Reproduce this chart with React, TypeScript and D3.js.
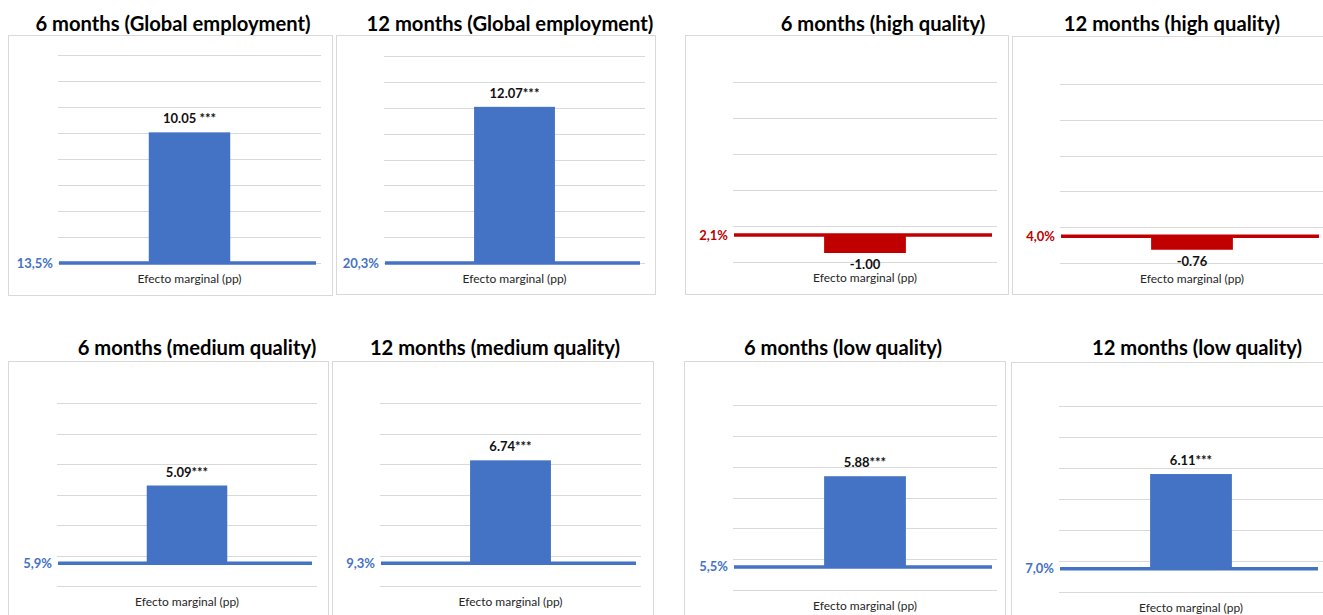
import React from "react";
import * as d3 from "d3";

// ---- data ----
const titles = [
  "6 months (Global employment)",
  "12 months (Global employment)",
  "6 months (high quality)",
  "12 months (high quality)",
  "6 months (medium quality)",
  "12 months (medium quality)",
  "6 months (low quality)",
  "12 months (low quality)",
];
const categories = ["Efecto marginal (pp)"];
const effects = [10.05, 12.07, -1.0, -0.76, 5.09, 6.74, 5.88, 6.11];
const effectLabels = ["10.05 ***", "12.07***", "-1.00", "-0.76", "5.09***", "6.74***", "5.88***", "6.11***"];
const baseRateLabels = ["13,5%", "20,3%", "2,1%", "4,0%", "5,9%", "9,3%", "5,5%", "7,0%"];
const yDomains: [number, number][] = [
  [0, 16], [0, 16], [-1.5, 8.5], [-1.5, 8.5],
  [-1.5, 10.5], [-1.5, 10.5], [-1.5, 10.5], [-1.5, 10.5],
];
const tickStep = 2;

// ---- layout (pixels) ----
type Frame = { box: [number, number, number, number]; grid: [number, number, number, number]; title: [number, number] };
const frames: Frame[] = [
  { box: [8, 35, 332, 295], grid: [58, 321, 263, 55], title: [173, 30.5] },
  { box: [336, 35, 655, 294], grid: [384, 645, 263, 56], title: [510, 30.5] },
  { box: [685, 35, 1008, 294], grid: [733, 997, 262, 82], title: [883, 30.5] },
  { box: [1012, 36, 1335, 294], grid: [1060, 1324, 263, 84], title: [1172, 30.5] },
  { box: [8, 361, 328, 625], grid: [57, 317, 586, 403], title: [197, 355] },
  { box: [332, 361, 653, 625], grid: [380, 641, 586, 403], title: [495, 355] },
  { box: [684, 361, 1005, 625], grid: [733, 997, 590, 405], title: [843, 355] },
  { box: [1011, 362, 1335, 625], grid: [1059, 1323, 592, 406], title: [1197, 355] },
];

const BLUE = "#4472C4";
const RED = "#C00000";
const FONT = "Lato, 'Liberation Sans', sans-serif";

function Panel({ i }: { i: number }) {
  const f = frames[i];
  const [gx0, gx1, gyB, gyT] = f.grid;
  const [d0, d1] = yDomains[i];
  const y = d3.scaleLinear().domain([d0, d1]).range([gyB, gyT]);
  const x = d3.scaleBand<string>().domain(categories).range([gx0, gx1]).paddingInner(0.527).paddingOuter(0.527);
  const ticks = d3.range(d0, d1 + 1e-6, tickStep);
  const v = effects[i];
  const color = v < 0 ? RED : BLUE;
  const cat = categories[0];
  const bx = x(cat)!;
  const bw = x.bandwidth();
  const cx = bx + bw / 2;
  const y0 = y(0);
  const yv = y(v);
  const [bxl, byt, bxr, byb] = f.box;
  return (
    <g>
      <rect x={bxl + 0.5} y={byt + 0.5} width={bxr - bxl} height={byb - byt} fill="#fff" stroke="#d9d9d9" strokeWidth={1} />
      <text x={f.title[0]} y={f.title[1]} textAnchor="middle" fontFamily={FONT} fontWeight={700} fontSize={20.2} fill="#000">
        {titles[i]}
      </text>
      {ticks.map((t) => (
        <line key={t} x1={gx0} x2={gx1} y1={Math.round(y(t)) + 0.5} y2={Math.round(y(t)) + 0.5} stroke="#d9d9d9" strokeWidth={1} />
      ))}
      <rect x={bx} y={Math.min(y0, yv)} width={bw} height={Math.abs(yv - y0)} fill={color} />
      <line x1={gx0 + 1} x2={gx1 - 5} y1={y0} y2={y0} stroke={color} strokeWidth={3.5} />
      <text x={gx0 - 5} y={y0} dy="0.35em" textAnchor="end" fontFamily={FONT} fontWeight={700} fontSize={13} fill={color}>
        {baseRateLabels[i]}
      </text>
      <text
        x={cx}
        y={v >= 0 ? yv - 9 : yv + 16}
        textAnchor="middle"
        fontFamily={FONT}
        fontWeight={700}
        fontSize={13}
        fill="#111"
      >
        {effectLabels[i]}
      </text>
      <text x={cx} y={y(d0) + 19.5} textAnchor="middle" fontFamily={FONT} fontSize={12} fill="#262626">
        {cat}
      </text>
    </g>
  );
}

export default function App() {
  return (
    <svg width={1323} height={615} style={{ position: "absolute", left: 0, top: 0, background: "#fff" }}>
      <rect width={1323} height={615} fill="#fff" />
      {titles.map((_, i) => (
        <Panel key={i} i={i} />
      ))}
    </svg>
  );
}
